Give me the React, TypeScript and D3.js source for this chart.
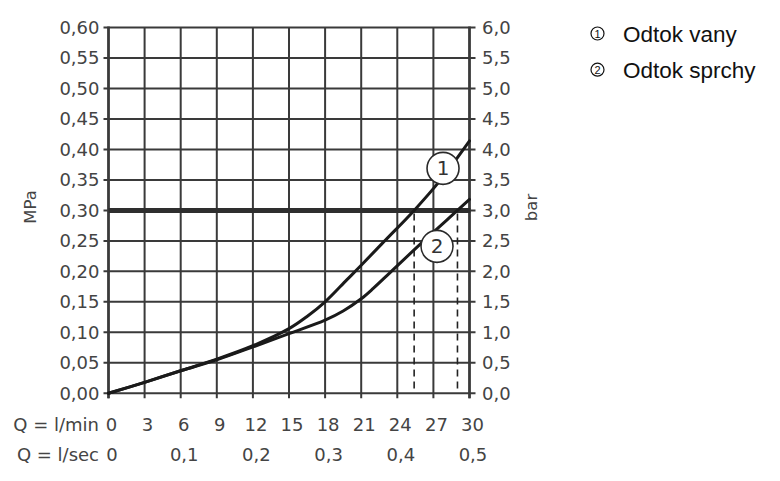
import * as React from "react";
import * as d3 from "d3";

// flow in l/min, pressure in MPa
const flowTicks = [0, 3, 6, 9, 12, 15, 18, 21, 24, 27, 30];
const secTicks = [0, 0.1, 0.2, 0.3, 0.4, 0.5];
const mpaTicks = [0, 0.05, 0.1, 0.15, 0.2, 0.25, 0.3, 0.35, 0.4, 0.45, 0.5, 0.55, 0.6];

const vany: [number, number][] = [
  [0, 0], [3, 0.018], [6, 0.037], [9, 0.056], [12, 0.078], [15, 0.106],
  [16.5, 0.126], [18, 0.15], [19.8, 0.186], [21, 0.21], [23, 0.251],
  [25.4, 0.3], [27.6, 0.35], [30, 0.414],
];
const sprchy: [number, number][] = [
  [0, 0], [3, 0.018], [6, 0.037], [9, 0.055], [12, 0.076], [15, 0.098],
  [18, 0.12], [19.5, 0.135], [21, 0.155], [22, 0.172], [23.4, 0.198],
  [26.2, 0.25], [29.0, 0.3], [30, 0.318],
];
const limit = 0.3;
const crossings = [25.4, 29.0];
const legendItems = ["Odtok vany", "Odtok sprchy"];
// where the numbered markers sit on the curves
const markers = [
  { n: "1", q: 27.8, p: 0.369 },
  { n: "2", q: 27.3, p: 0.241 },
];

const fmt = (v: number, d: number) => v.toFixed(d).replace(".", ",");

const axisFont = "'DejaVu Sans', sans-serif";
const grid = "#3a3a3a";

export default function App() {
  const x = d3.scaleLinear().domain([0, 30]).range([108.5, 469.5]);
  const y = d3.scaleLinear().domain([0, 0.6]).range([393.3, 27.5]);

  const line = d3
    .line<[number, number]>()
    .x((d) => x(d[0]))
    .y((d) => y(d[1]))
    .curve(d3.curveCatmullRom.alpha(0.5));

  return (
    <svg
      width={780}
      height={481}
      style={{ position: "absolute", left: 0, top: 0, background: "#fff" }}
    >
      {/* grid */}
      <g stroke={grid} strokeWidth={2}>
        {flowTicks.map((t) => (
          <line key={"v" + t} x1={x(t)} x2={x(t)} y1={y(0.6)} y2={y(0) + 5} />
        ))}
        {mpaTicks.map((t) => (
          <line key={"h" + t} x1={x(0) - 5} x2={x(30) + 6} y1={y(t)} y2={y(t)} />
        ))}
        <line x1={x(0)} x2={x(0)} y1={y(0.6) - 1} y2={y(0) + 5} strokeWidth={2.6} />
        <line x1={x(30)} x2={x(30)} y1={y(0.6) - 1} y2={y(0) + 5} strokeWidth={2.6} />
      </g>

      {/* left axis labels */}
      <g fontFamily={axisFont} fontSize={18} fill="#444" textAnchor="end">
        {mpaTicks.map((t) => (
          <text key={t} x={99.5} y={y(t) + 6.5}>
            {fmt(t, 2)}
          </text>
        ))}
      </g>
      {/* right axis labels (bar) */}
      <g fontFamily={axisFont} fontSize={18} fill="#444" textAnchor="start">
        {mpaTicks.map((t) => (
          <text key={t} x={482} y={y(t) + 6.5}>
            {fmt(t * 10, 1)}
          </text>
        ))}
      </g>

      <text
        transform="translate(35.5,207) rotate(-90)"
        textAnchor="middle"
        fontFamily={axisFont}
        fontSize={16.5}
        fill="#444"
      >
        MPa
      </text>
      <text
        transform="translate(537,207.5) rotate(-90)"
        textAnchor="middle"
        fontFamily={axisFont}
        fontSize={16.5}
        fill="#444"
      >
        bar
      </text>

      {/* bottom labels */}
      <g fontFamily={axisFont} fontSize={18} fill="#444">
        <text x={99} y={431} textAnchor="end">Q = l/min</text>
        {flowTicks.map((t) => (
          <text key={t} x={x(t) + 3} y={431} textAnchor="middle">
            {t}
          </text>
        ))}
        <text x={99} y={461} textAnchor="end">Q = l/sec</text>
        {secTicks.map((t) => (
          <text key={t} x={x(t * 60) + 3.5} y={461} textAnchor="middle">
            {t === 0 ? "0" : fmt(t, 1)}
          </text>
        ))}
      </g>

      {/* limit line */}
      <line
        x1={x(0)}
        x2={x(30) + 1}
        y1={y(limit)}
        y2={y(limit)}
        stroke="#2e2e2e"
        strokeWidth={5}
      />

      {/* dashed drops */}
      <g stroke="#222" strokeWidth={1.6} strokeDasharray="7,5">
        {crossings.map((c) => (
          <line key={c} x1={x(c)} x2={x(c)} y1={y(limit) + 3} y2={y(0)} />
        ))}
      </g>

      {/* curves */}
      <g fill="none" stroke="#1a1a1a" strokeWidth={3} strokeLinecap="round">
        <path d={line(vany) ?? ""} />
        <path d={line(sprchy) ?? ""} />
      </g>

      {/* markers */}
      {markers.map((m) => (
        <g key={m.n} transform={`translate(${x(m.q)},${y(m.p)})`}>
          <circle r={16} fill="#fff" stroke="#2a2a2a" strokeWidth={1.6} />
          <text
            y={7}
            textAnchor="middle"
            fontFamily={axisFont}
            fontSize={20}
            fill="#333"
          >
            {m.n}
          </text>
        </g>
      ))}

      {/* legend */}
      {legendItems.map((name, i) => (
        <g key={name} transform={`translate(0,${i * 36.2})`}>
          <circle cx={597.5} cy={33.5} r={6.5} fill="none" stroke="#111" strokeWidth={1.2} />
          <text
            x={597.5}
            y={37.6}
            textAnchor="middle"
            fontFamily="'Liberation Sans', Arial, sans-serif"
            fontSize={11}
            fill="#111"
          >
            {i + 1}
          </text>
          <text
            x={623}
            y={42.3}
            fontFamily="'Liberation Sans', Arial, sans-serif"
            fontSize={22.5}
            fill="#111"
          >
            {name}
          </text>
        </g>
      ))}
    </svg>
  );
}
